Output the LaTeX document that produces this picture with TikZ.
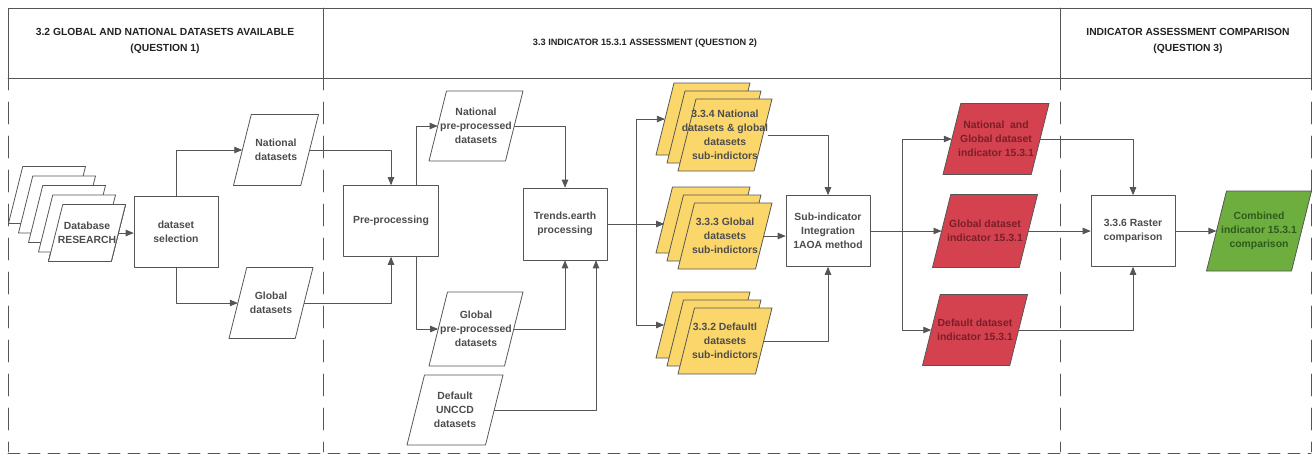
\documentclass[tikz,border=0pt]{standalone}
\usepackage{fontspec}
\setmainfont{Liberation Sans}
\usetikzlibrary{arrows}
\definecolor{linegray}{HTML}{555555}
\definecolor{textgray}{HTML}{4D4D4D}
\definecolor{headgray}{HTML}{222222}
\definecolor{subyellow}{HTML}{FBD66A}
\definecolor{indred}{HTML}{D4424F}
\definecolor{indredtext}{HTML}{7B1E28}
\definecolor{combgreen}{HTML}{6DAE3F}
\definecolor{combgreentext}{HTML}{2F5A1C}
% x, y, width, height, fill
\newcommand{\slantcard}[5]{%
  \draw [card,fill=#5] (#1-#3/2+#4/4,#2-#4/2) -- (#1+#3/2,#2-#4/2) -- (#1+#3/2-#4/4,#2+#4/2) -- (#1-#3/2,#2+#4/2) -- cycle;}
% name, x, y, width, height, fill, text colour, text
\newcommand{\dataslant}[8]{%
  \slantcard{#2}{#3}{#4}{#5}{#6}
  \node [cardtext,text=#7,minimum width=#4-#5/4,minimum height=#5] (#1) at (#2,#3) {#8};}

\begin{document}
\begin{tikzpicture}[line cap=round,line join=round,>=triangle 45,x=1pt,y=-1pt,
  card/.style={draw=linegray,line width=0.8pt},
  cardtext/.style={align=center,inner sep=0pt,font=\bfseries\fontsize{10.4}{14}\selectfont},
  procbox/.style={draw=linegray,fill=white,line width=0.8pt,minimum width=84,minimum height=71,align=center,inner sep=1pt,text=textgray,font=\bfseries\fontsize{10.4}{14}\selectfont},
  flow/.style={draw=linegray,line width=0.8pt,->},
  lane/.style={draw=linegray,line width=0.8pt},
  headtext/.style={align=center,text=headgray,font=\bfseries\fontsize{10.3}{16}\selectfont}]
\useasboundingbox (0,0) rectangle (1314,456);
\draw [lane] (8,78) -- (8,8) -- (1311,8) -- (1311,78);
\draw [lane] (8,78) -- (1311,78);
\draw [lane] (323,8) -- (323,78);
\draw [lane] (1060,8) -- (1060,78);
\foreach \x in {8,323,1060,1311}
  \draw [lane,dash pattern=on 22pt off 12pt,dash phase=10pt] (\x,78) -- (\x,452);
\draw [lane,dash pattern=on 12pt off 8pt] (8,453) -- (1311,453);

\node [headtext] (q1) at (165,41) {3.2 GLOBAL AND NATIONAL DATASETS AVAILABLE\\(QUESTION 1)};
\node [headtext,font=\bfseries\fontsize{9.2}{12}\selectfont] (q2) at (645,43) {3.3 INDICATOR 15.3.1 ASSESSMENT (QUESTION 2)};
\node [headtext] (q3) at (1188,41) {INDICATOR ASSESSMENT COMPARISON\\(QUESTION 3)};

\foreach \k in {4,3,2,1}
  \slantcard{87-10*\k}{233-9.5*\k}{77}{57}{white}
\dataslant{db}{87}{233}{77}{57}{white}{textgray}{Database\\RESEARCH}
\node [procbox] (sel) at (176,232) {dataset\\selection};
\dataslant{natds}{276}{150}{85}{71}{white}{textgray}{National\\datasets}
\dataslant{globds}{271}{303}{84}{71}{white}{textgray}{Global\\datasets}

\node [procbox,minimum width=95] (preproc) at (391,221) {Pre-processing};
\dataslant{natpre}{476}{126}{94}{70}{white}{textgray}{National\\pre-processed\\datasets}
\dataslant{globpre}{476}{329}{94}{74}{white}{textgray}{Global\\pre-processed\\datasets}
\dataslant{unccd}{455}{410}{96}{70}{white}{textgray}{Default\\UNCCD\\datasets}
\node [procbox,minimum height=72] (trends) at (565,224) {Trends.earth\\processing};

\dataslant{sub4back}{703}{119}{94}{72}{subyellow}{textgray}{}
\slantcard{714}{127}{94}{72}{subyellow}
\dataslant{sub4}{725}{135}{94}{72}{subyellow}{textgray}{3.3.4 National\\datasets \& global\\datasets\\sub-indictors}
\dataslant{sub3back}{703}{220}{94}{66}{subyellow}{textgray}{}
\slantcard{714}{228}{94}{66}{subyellow}
\dataslant{sub3}{725}{236}{94}{66}{subyellow}{textgray}{3.3.3 Global\\datasets\\sub-indictors}
\dataslant{sub2back}{703}{325}{94}{66}{subyellow}{textgray}{}
\slantcard{714}{333}{94}{66}{subyellow}
\dataslant{sub2}{725}{341}{94}{66}{subyellow}{textgray}{3.3.2 Defaultl\\datasets\\sub-indictors}
\node [procbox] (integ) at (828,231) {Sub-indicator\\Integration\\1AOA method};

\dataslant{redng}{996}{139}{106}{71}{indred}{indredtext}{National\ \ and\\Global dataset\\indicator 15.3.1}
\dataslant{redg}{985}{231}{105}{73}{indred}{indredtext}{Global dataset\\indicator 15.3.1}
\dataslant{redd}{975}{330}{105}{71}{indred}{indredtext}{Default dataset\\indicator 15.3.1}
\node [procbox] (raster) at (1133,231) {3.3.6 Raster\\comparison};
\dataslant{comb}{1259}{231}{105}{80}{combgreen}{combgreentext}{Combined\\indicator 15.3.1\\comparison}

\coordinate (split1) at ([xshift=29pt]trends.east);
\coordinate (split2) at ([xshift=32pt]integ.east);
\draw [flow] (db.east) -- (db.east -| sel.west);
\draw [flow] (sel.north) |- (natds.west);
\draw [flow] (sel.south) |- (globds.west);
\draw [flow] (natds.east) -| (preproc.north);
\draw [flow] (globds.east) -| (preproc.south);
\draw [flow] ([xshift=25pt]preproc.north) |- (natpre.west);
\draw [flow] ([xshift=25pt]preproc.south) |- (globpre.west);
\draw [flow] (natpre.east) -| (trends.north);
\draw [flow] (globpre.east) -| (trends.south);
\draw [flow] (unccd.east) -| ([xshift=31pt]trends.south);
\draw [lane] (trends.east) -- (split1);
\draw [flow] (split1) |- (sub4back.west);
\draw [flow] (split1) -- (split1 -| sub3back.west);
\draw [flow] (split1) |- (sub2back.west);
\draw [flow] (sub4.east) -| (integ.north);
\draw [flow] (sub3.east) -- (sub3.east -| integ.west);
\draw [flow] (sub2.east) -| (integ.south);
\draw [lane] (integ.east) -- (split2);
\draw [flow] (split2) |- (redng.west);
\draw [flow] (split2) -- (split2 -| redg.west);
\draw [flow] (split2) |- (redd.west);
\draw [flow] (redng.east) -| (raster.north);
\draw [flow] (redg.east) -- (redg.east -| raster.west);
\draw [flow] (redd.east) -| (raster.south);
\draw [flow] (raster.east) -- (raster.east -| comb.west);
\end{tikzpicture}
\end{document}
